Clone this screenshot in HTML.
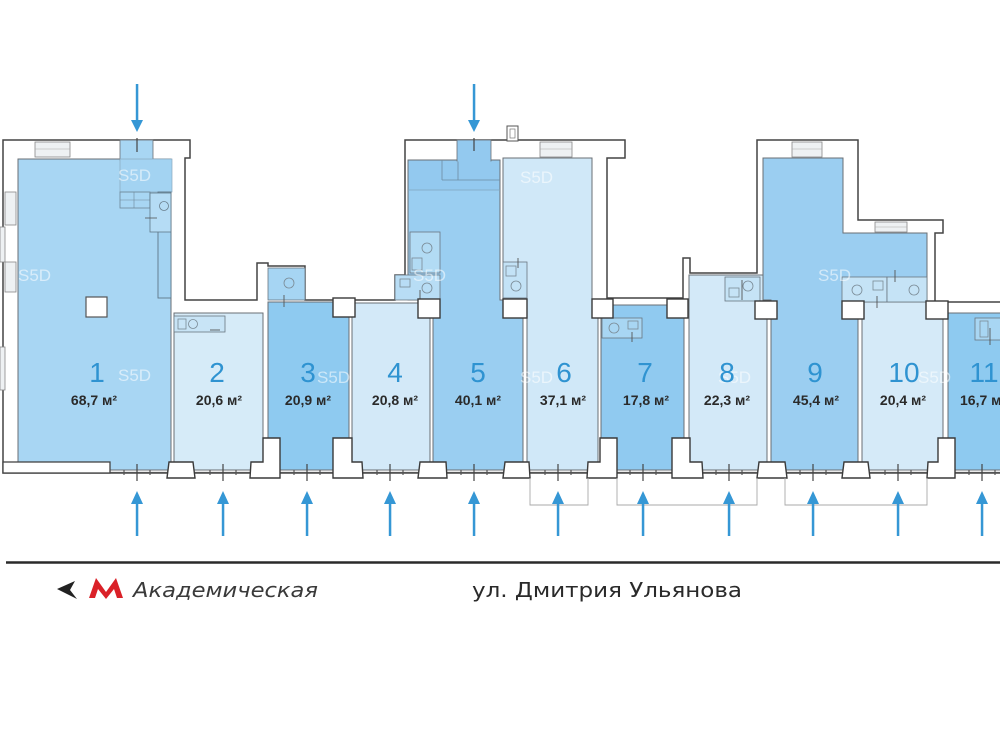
<!DOCTYPE html>
<html><head><meta charset="utf-8">
<style>
html,body{margin:0;padding:0;background:#fff;}
svg{display:block;}
</style></head><body>
<svg width="1000" height="750" viewBox="0 0 1000 750" xmlns="http://www.w3.org/2000/svg">
<rect width="1000" height="750" fill="#ffffff"/>

<!-- building footprint (walls) -->
<polygon points="3,473 3,140 190,140 190,158 185,158 185,300 257,300 257,263 268,263 268,266 305,266 305,300 395,300 395,275 405,275 405,140 625,140 625,158 607,158 607,298 683,298 683,258 690,258 690,273 757,273 757,140 858,140 858,220 943,220 943,233 935,233 935,302 1002,302 1002,473" fill="#ffffff" stroke="#444" stroke-width="1.5"/>

<!-- rooms -->
<g stroke="#6a6f74" stroke-width="1">
<polygon points="18,159 171,159 171,470 110,470 110,462 18,462" fill="#a8d6f3"/>
<polygon points="174,313 263,313 263,470 174,470" fill="#d6ebf8"/>
<polygon points="268,302 349,302 349,470 268,470" fill="#8ecaf0"/>
<polygon points="352,303 430,303 430,470 352,470" fill="#d3e9f8"/>
<polygon points="408,160 500,160 500,300 523,300 523,470 433,470 433,300 408,300" fill="#9acef1"/>
<polygon points="503,158 592,158 592,300 598,300 598,470 527,470 527,300 503,300" fill="#d0e8f8"/>
<polygon points="601,305 684,305 684,470 601,470" fill="#90caf0"/>
<polygon points="689,275 767,275 767,470 689,470" fill="#d3e9f8"/>
<polygon points="763,158 843,158 843,233 927,233 927,300 858,300 858,470 771,470 771,300 763,300" fill="#9bcef1"/>
<polygon points="862,302 943,302 943,470 862,470" fill="#d5eaf8"/>
<polygon points="948,313 1002,313 1002,470 948,470" fill="#8ecaf0"/>
</g>
<!-- room 5 upper darker band -->
<rect x="408.5" y="160.5" width="91" height="29.5" fill="#93c9ef"/>
<line x1="408" y1="190" x2="500" y2="190" stroke="#7fa4bd" stroke-width="0.8"/>
<line x1="442" y1="180" x2="500" y2="180" stroke="#6d8ca2" stroke-width="0.8"/>
<line x1="442" y1="160" x2="442" y2="180" stroke="#6d8ca2" stroke-width="0.8"/>
<line x1="458" y1="160" x2="458" y2="180" stroke="#6d8ca2" stroke-width="0.8"/>

<!-- top vestibules -->
<rect x="120" y="140" width="33" height="20" fill="#a8d6f3" stroke="#6a6f74" stroke-width="0.8"/>
<rect x="120" y="159.5" width="33" height="2" fill="#a8d6f3"/>
<rect x="457" y="140" width="34" height="21" fill="#93c9ef" stroke="#6a6f74" stroke-width="0.8"/>
<rect x="457.5" y="159.5" width="33" height="2" fill="#93c9ef"/>
<line x1="137" y1="138" x2="137" y2="152" stroke="#444" stroke-width="1.2"/>
<line x1="474" y1="138" x2="474" y2="151" stroke="#444" stroke-width="1.2"/>

<!-- windows in walls -->
<g fill="#eef1f3" stroke="#888" stroke-width="0.8">
<rect x="35" y="142" width="35" height="15"/>
<rect x="540" y="142" width="32" height="15"/>
<rect x="792" y="142" width="30" height="15"/>
<rect x="875" y="222" width="32" height="10"/>
<rect x="5" y="192" width="11" height="33"/>
<rect x="0" y="227" width="5" height="35"/>
<rect x="5" y="262" width="11" height="30"/>
<rect x="0" y="347" width="5" height="43"/>
</g>
<g stroke="#aaa" stroke-width="0.6">
<line x1="35" y1="149" x2="70" y2="149"/>
<line x1="540" y1="149" x2="572" y2="149"/>
<line x1="792" y1="149" x2="822" y2="149"/>
<line x1="875" y1="227" x2="907" y2="227"/>
</g>
<!-- chimney -->
<rect x="507" y="126" width="11" height="15" fill="#fff" stroke="#555" stroke-width="1"/>
<rect x="510" y="129" width="5" height="9" fill="#fff" stroke="#777" stroke-width="0.7"/>

<!-- room 1 interior details -->
<rect x="120" y="159" width="52" height="33" fill="#a3d3f2" stroke="#8aa9bd" stroke-width="0.7"/>
<rect x="120" y="192" width="30" height="16" fill="none" stroke="#6e8798" stroke-width="0.8"/>
<line x1="120" y1="200" x2="150" y2="200" stroke="#6e8798" stroke-width="0.6"/>
<line x1="134" y1="192" x2="134" y2="208" stroke="#6e8798" stroke-width="0.6"/>
<rect x="158" y="192" width="13" height="106" fill="#a3d3f2" stroke="#5f7787" stroke-width="0.9"/>
<rect x="150" y="193" width="21" height="39" fill="#b5dcf5" stroke="#5f7787" stroke-width="0.8"/>
<circle cx="164" cy="206" r="4.5" fill="none" stroke="#6a7f8d" stroke-width="0.8"/>
<line x1="145" y1="218" x2="157" y2="218" stroke="#555" stroke-width="0.8"/>
<rect x="86" y="297" width="21" height="20" fill="#fff" stroke="#555" stroke-width="1.2"/>

<!-- bathrooms -->
<g stroke="#6a7680" stroke-width="0.8">
<rect x="174" y="316" width="51" height="16" fill="#c8e4f6"/>
<rect x="268" y="268" width="37" height="32" fill="#a6d5f3"/>
<rect x="410" y="232" width="30" height="41" fill="#b2dbf4"/>
<rect x="395" y="275" width="45" height="25" fill="#b8ddf5"/>
<rect x="503" y="262" width="24" height="36" fill="#c3e2f6"/>
<rect x="602" y="318" width="40" height="20" fill="#a8d6f3"/>
<rect x="725" y="277" width="35" height="24" fill="#c5e3f6"/>
<rect x="842" y="277" width="45" height="25" fill="#c5e3f6"/>
<rect x="887" y="277" width="40" height="25" fill="#c5e3f6"/>
<rect x="975" y="318" width="27" height="22" fill="#a8d6f3"/>
</g>
<g fill="none" stroke="#7a8a95" stroke-width="0.8">
<circle cx="193" cy="324" r="4.5"/>
<circle cx="289" cy="283" r="5"/>
<circle cx="427" cy="248" r="5"/>
<circle cx="427" cy="288" r="5"/>
<circle cx="516" cy="286" r="5"/>
<circle cx="614" cy="328" r="5"/>
<circle cx="748" cy="286" r="5"/>
<circle cx="857" cy="290" r="5"/>
<circle cx="914" cy="290" r="5"/>
<rect x="178" y="319" width="8" height="10"/>
<rect x="400" y="279" width="10" height="8"/>
<rect x="506" y="266" width="10" height="10"/>
<rect x="412" y="258" width="10" height="12"/>
<rect x="628" y="321" width="10" height="8"/>
<rect x="729" y="288" width="10" height="9"/>
<rect x="873" y="281" width="10" height="9"/>
<rect x="980" y="321" width="8" height="16"/>
</g>
<g stroke="#555" stroke-width="0.9">
<line x1="284" y1="295" x2="284" y2="307"/>
<line x1="420" y1="290" x2="420" y2="302"/>
<line x1="518" y1="258" x2="518" y2="268"/>
<line x1="632" y1="332" x2="632" y2="342"/>
<line x1="742" y1="280" x2="742" y2="300"/>
<line x1="877" y1="296" x2="877" y2="308"/>
<line x1="895" y1="270" x2="895" y2="282"/>
<line x1="990" y1="328" x2="990" y2="345"/>
<line x1="210" y1="330" x2="220" y2="330"/>
</g>

<!-- facade glass line -->
<line x1="3" y1="472.5" x2="1002" y2="472.5" stroke="#555" stroke-width="1.3"/>
<rect x="3" y="462" width="107" height="11" fill="#fff" stroke="#444" stroke-width="1.3"/>

<!-- top piers -->
<g fill="#fff" stroke="#3a3a3a" stroke-width="1.4">
<rect x="333" y="298" width="22" height="19"/>
<rect x="418" y="299" width="22" height="19"/>
<rect x="503" y="299" width="24" height="19"/>
<rect x="592" y="299" width="21" height="19"/>
<rect x="667" y="299" width="21" height="19"/>
<rect x="755" y="301" width="22" height="18"/>
<rect x="842" y="301" width="22" height="18"/>
<rect x="926" y="301" width="22" height="18"/>
</g>

<!-- bottom piers -->
<g fill="#fff" stroke="#3a3a3a" stroke-width="1.4">
<polygon points="167,478 169,462 193,462 195,478"/>
<polygon points="250,478 251,462 263,462 263,438 280,438 280,478"/>
<polygon points="333,478 333,438 352,438 352,462 362,462 363,478"/>
<polygon points="418,478 420,462 446,462 447,478"/>
<polygon points="503,478 505,462 529,462 530,478"/>
<polygon points="587,478 588,462 600,462 600,438 617,438 617,478"/>
<polygon points="672,478 672,438 690,438 690,462 702,462 703,478"/>
<polygon points="757,478 759,462 785,462 787,478"/>
<polygon points="842,478 844,462 868,462 870,478"/>
<polygon points="927,478 928,462 938,462 938,438 955,438 955,478"/>
</g>

<!-- door ticks & mullion dots -->
<g stroke="#444" stroke-width="1.2">
<line x1="137" y1="464" x2="137" y2="481"/>
<line x1="223" y1="464" x2="223" y2="481"/>
<line x1="307" y1="464" x2="307" y2="481"/>
<line x1="390" y1="464" x2="390" y2="481"/>
<line x1="474" y1="464" x2="474" y2="481"/>
<line x1="558" y1="464" x2="558" y2="481"/>
<line x1="643" y1="464" x2="643" y2="481"/>
<line x1="729" y1="464" x2="729" y2="481"/>
<line x1="813" y1="464" x2="813" y2="481"/>
<line x1="898" y1="464" x2="898" y2="481"/>
<line x1="982" y1="464" x2="982" y2="481"/>
</g>
<g stroke="#555" stroke-width="1.2">
<line x1="124" y1="470" x2="124" y2="475"/><line x1="150" y1="470" x2="150" y2="475"/>
<line x1="210" y1="470" x2="210" y2="475"/><line x1="236" y1="470" x2="236" y2="475"/>
<line x1="294" y1="470" x2="294" y2="475"/><line x1="320" y1="470" x2="320" y2="475"/>
<line x1="377" y1="470" x2="377" y2="475"/><line x1="403" y1="470" x2="403" y2="475"/>
<line x1="461" y1="470" x2="461" y2="475"/><line x1="487" y1="470" x2="487" y2="475"/>
<line x1="545" y1="470" x2="545" y2="475"/><line x1="571" y1="470" x2="571" y2="475"/>
<line x1="630" y1="470" x2="630" y2="475"/><line x1="656" y1="470" x2="656" y2="475"/>
<line x1="716" y1="470" x2="716" y2="475"/><line x1="742" y1="470" x2="742" y2="475"/>
<line x1="800" y1="470" x2="800" y2="475"/><line x1="826" y1="470" x2="826" y2="475"/>
<line x1="885" y1="470" x2="885" y2="475"/><line x1="911" y1="470" x2="911" y2="475"/>
<line x1="969" y1="470" x2="969" y2="475"/><line x1="995" y1="470" x2="995" y2="475"/>
</g>

<!-- porch brackets -->
<g fill="none" stroke="#a8a8a8" stroke-width="0.9">
<polyline points="530,478 530,505 588,505 588,478"/>
<polyline points="617,478 617,505 757,505 757,478"/>
<polyline points="785,478 785,505 927,505 927,478"/>
</g>

<!-- entrance arrows -->
<g fill="#3597d5" stroke="none">
<rect x="135.8" y="84" width="2.5" height="38"/><polygon points="131,120 143,120 137,132"/>
<rect x="472.8" y="84" width="2.5" height="38"/><polygon points="468,120 480,120 474,132"/>
</g>
<g fill="#3597d5" stroke="none">
<rect x="135.8" y="502" width="2.5" height="34"/><polygon points="131,504 143,504 137,491"/>
<rect x="221.8" y="502" width="2.5" height="34"/><polygon points="217,504 229,504 223,491"/>
<rect x="305.8" y="502" width="2.5" height="34"/><polygon points="301,504 313,504 307,491"/>
<rect x="388.8" y="502" width="2.5" height="34"/><polygon points="384,504 396,504 390,491"/>
<rect x="472.8" y="502" width="2.5" height="34"/><polygon points="468,504 480,504 474,491"/>
<rect x="556.8" y="502" width="2.5" height="34"/><polygon points="552,504 564,504 558,491"/>
<rect x="641.8" y="502" width="2.5" height="34"/><polygon points="637,504 649,504 643,491"/>
<rect x="727.8" y="502" width="2.5" height="34"/><polygon points="723,504 735,504 729,491"/>
<rect x="811.8" y="502" width="2.5" height="34"/><polygon points="807,504 819,504 813,491"/>
<rect x="896.8" y="502" width="2.5" height="34"/><polygon points="892,504 904,504 898,491"/>
<rect x="980.8" y="502" width="2.5" height="34"/><polygon points="976,504 988,504 982,491"/>
</g>

<!-- S5D watermarks -->
<g font-family="Liberation Sans, sans-serif" font-size="17" fill="#ffffff" fill-opacity="0.55">
<text x="118" y="181">S5D</text>
<text x="18" y="281">S5D</text>
<text x="118" y="381">S5D</text>
<text x="317" y="383">S5D</text>
<text x="413" y="281">S5D</text>
<text x="520" y="183">S5D</text>
<text x="520" y="383">S5D</text>
<text x="718" y="383">S5D</text>
<text x="818" y="281">S5D</text>
<text x="918" y="383">S5D</text>
</g>

<!-- room numbers -->
<g font-family="Liberation Sans, sans-serif" font-size="28" fill="#2f93d1" text-anchor="middle">
<text x="97" y="382">1</text>
<text x="217" y="382">2</text>
<text x="308" y="382">3</text>
<text x="395" y="382">4</text>
<text x="478" y="382">5</text>
<text x="564" y="382">6</text>
<text x="645" y="382">7</text>
<text x="727" y="382">8</text>
<text x="815" y="382">9</text>
<text x="904" y="382">10</text>
<text x="984" y="382">11</text>
</g>
<!-- areas -->
<g font-family="Liberation Sans, sans-serif" font-size="14" font-weight="bold" fill="#2a2a2a" text-anchor="middle">
<text x="94" y="405">68,7 м²</text>
<text x="219" y="405">20,6 м²</text>
<text x="308" y="405">20,9 м²</text>
<text x="395" y="405">20,8 м²</text>
<text x="478" y="405">40,1 м²</text>
<text x="563" y="405">37,1 м²</text>
<text x="646" y="405">17,8 м²</text>
<text x="727" y="405">22,3 м²</text>
<text x="816" y="405">45,4 м²</text>
<text x="903" y="405">20,4 м²</text>
<text x="960" y="405" text-anchor="start">16,7 м²</text>
</g>

<!-- street -->
<line x1="6" y1="562.5" x2="1000" y2="562.5" stroke="#2a2a2a" stroke-width="2.4"/>
<polygon points="57,589 75,581 70,590 77,599" fill="#222"/>
<polygon points="89,598 96,578 106,592 116,578 123,598 117,598 114,589 106,599 98,589 95,598" fill="#da2128"/>
<text x="133" y="597" font-family="DejaVu Sans, sans-serif" font-style="italic" font-size="20" fill="#3a3a3a" textLength="185" lengthAdjust="spacingAndGlyphs">Академическая</text>
<text x="472" y="597" font-family="DejaVu Sans, sans-serif" font-size="20" fill="#2a2a2a" textLength="270" lengthAdjust="spacingAndGlyphs">ул. Дмитрия Ульянова</text>
</svg>
</body></html>
